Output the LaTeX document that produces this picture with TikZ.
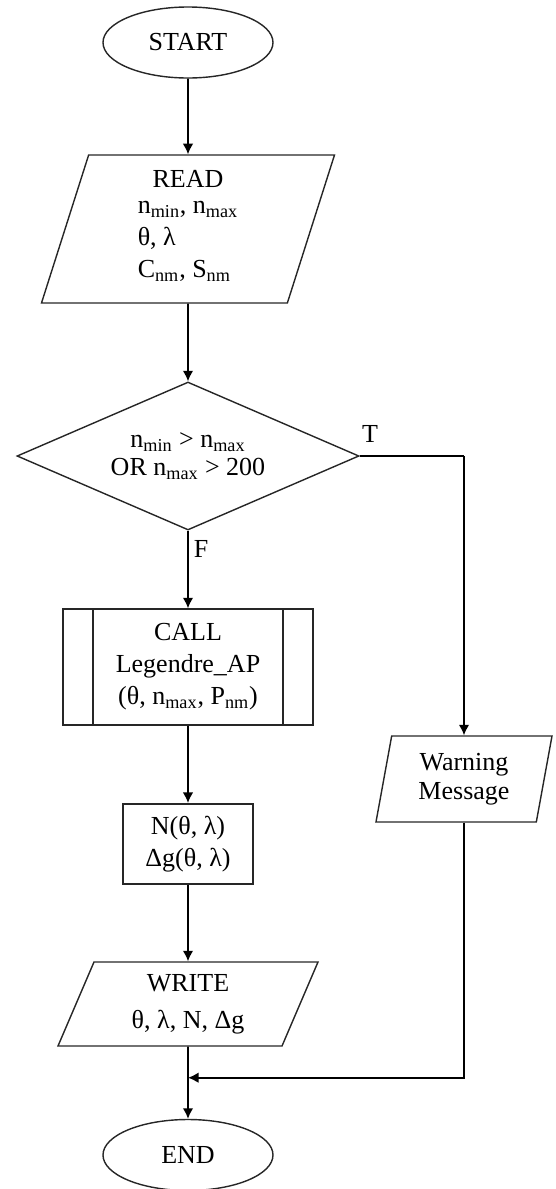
\documentclass[tikz,border=0pt]{standalone}
\usepackage{fontspec}
\setmainfont{Liberation Serif}
\usetikzlibrary{arrows.meta,shapes,calc}

\begin{document}
\begin{tikzpicture}[->,>={Latex[length=6pt,width=6pt]},line width=0.9pt,node distance=3cm,
        every node/.style={font=\fontsize{14.8}{18.2}\selectfont},
        terminal/.style={ellipse,draw=black!85,line width=0.8pt,minimum width=3.4cm,minimum height=1.42cm,inner sep=0},
        io/.style={trapezium,draw=black!85,line width=0.8pt,inner sep=0,trapezium stretches body,align=center},
        decision/.style={diamond,aspect=2.31,draw=black!85,line width=0.8pt,inner sep=0,minimum width=6.84cm,minimum height=2.96cm,align=center},
        subproc/.style={rectangle,draw=black!85,line width=0.8pt,minimum width=5cm,minimum height=2.32cm,align=center,
          path picture={\draw[-,black!85,line width=0.8pt]
            ([xshift=0.6cm]path picture bounding box.north west) -- ([xshift=0.6cm]path picture bounding box.south west)
            ([xshift=-0.6cm]path picture bounding box.north east) -- ([xshift=-0.6cm]path picture bounding box.south east);}},
        proc/.style={rectangle,draw=black!85,line width=1.2pt,minimum width=2.6cm,minimum height=1.6cm,align=center}]
        \useasboundingbox (-3.76,0.85) rectangle (7.36,-22.93);
        \node[terminal] (start) {START};
        \node[io,minimum width=5.86cm,minimum height=2.96cm,trapezium left angle=68,trapezium right angle=112]
          (read) [below of=start,node distance=3.73cm]
          {READ\\[1pt]\begin{tabular}{@{}l@{}}n\textsubscript{min}, n\textsubscript{max}\\ θ, λ\\ C\textsubscript{nm}, S\textsubscript{nm}\end{tabular}};
        \node[decision] (test) [below of=read,node distance=4.54cm]
          {n\textsubscript{min} > n\textsubscript{max}\\[-2pt]OR n\textsubscript{max} > 200};
        \node[subproc] (call) [below of=test,node distance=4.22cm] {CALL\\Legendre\_AP\\(θ, n\textsubscript{max}, P\textsubscript{nm})};
        \node[proc] (calc) [below of=call,node distance=3.54cm] {N(θ, λ)\\Δg(θ, λ)};
        \node[io,minimum width=5.2cm,minimum height=1.68cm,trapezium left angle=59,trapezium right angle=121]
          (write) [below of=calc,node distance=3.2cm] {WRITE\\[3pt]θ, λ, N, Δg};
        \node[terminal] (stop) [below of=write,node distance=3.02cm] {END};
        \node[io,minimum width=3.52cm,minimum height=1.72cm,trapezium left angle=73,trapezium right angle=107]
          (warn) [right of=call,node distance=5.52cm,yshift=-2.24cm] {Warning\\[-2pt]Message};
        \coordinate (tc) at (test.east -| warn.north);
        \coordinate (join) at ($(write.south)+(0,-0.62)$);
        \path
          (start) edge (read)
          (read) edge (test)
          (test) edge node[pos=0,anchor=north west,inner sep=0,xshift=0.1cm,yshift=-0.18cm] {F} (call)
          (call) edge (calc)
          (calc) edge (write)
          (write) edge (stop)
          ;
        \draw[-,line width=1.6pt] (test.east) -- node[pos=0,anchor=south west,inner sep=0,xshift=0.02cm,yshift=0.25cm] {T} (tc);
        \draw (tc) -- (warn.north);
        \draw (warn.south) |- (join);
      \end{tikzpicture}
\end{document}
